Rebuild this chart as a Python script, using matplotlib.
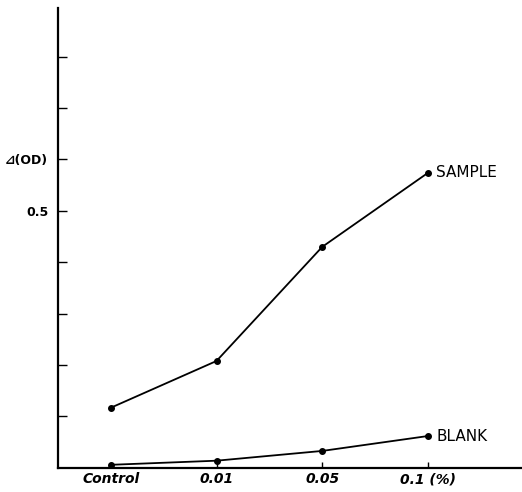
import numpy as np
import matplotlib
matplotlib.use("Agg")
import matplotlib.pyplot as plt

# ── Données ─────────────────────────────────────────────
categories = ["Control", "0.01", "0.05", "0.1 (%)"]
sample = [0.117, 0.208, 0.430, 0.574]
blank = [0.006, 0.014, 0.033, 0.062]
y_ticks = [0.1, 0.2, 0.3, 0.4, 0.5, 0.6, 0.7, 0.8]
y_ticklabels = ["", "", "", "", "0.5", "⊿(OD)", "", ""]

plt.rcParams.update({
    "font.family": ["DejaVu Sans"],
    "axes.linewidth": 1.6,
})

fig = plt.figure(figsize=(5.22, 4.92), dpi=100)
ax = fig.add_axes([0.111, 0.049, 0.889, 0.935])

x = np.arange(len(categories))
for vals, name in [(sample, "SAMPLE"), (blank, "BLANK")]:
    ax.plot(x, vals, color="black", lw=1.3, marker="o", ms=4, zorder=3)
    ax.text(x[-1] + 0.08, vals[-1], name, fontsize=11, va="center", ha="left")

ax.set_xlim(-0.50, 3.89)
ax.set_ylim(0, 0.895)

ax.spines["top"].set_visible(False)
ax.spines["right"].set_visible(False)

ax.set_xticks(x)
ax.set_xticklabels(categories, fontsize=10, fontweight="bold", fontstyle="italic")
ax.set_yticks(y_ticks)
ax.set_yticklabels(y_ticklabels, fontsize=9, fontweight="bold")
ax.tick_params(axis="y", direction="in", length=6.5, width=1.0, pad=7)
ax.tick_params(axis="x", direction="in", length=4, width=1.0, pad=3)

fig.savefig("out.png", dpi=100, facecolor="white")
